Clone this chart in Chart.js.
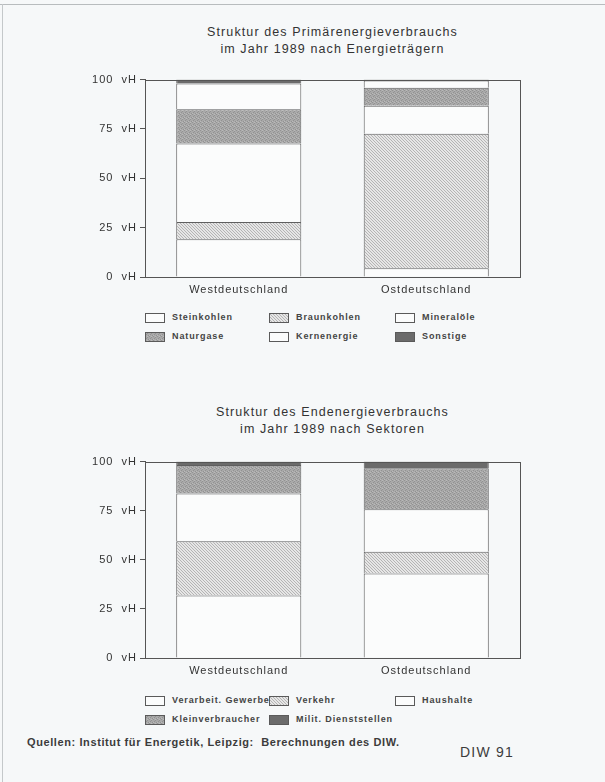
<!DOCTYPE html>
<html>
<head>
<meta charset="utf-8">
<script src="https://cdn.jsdelivr.net/npm/chart.js@4"></script>
<style>
  body { margin:0; background:#f6f8f9; font-family:"Liberation Sans", Arial, sans-serif; color:#333; }
  #page { position:relative; width:605px; height:782px; overflow:hidden; }
  .frameTop { position:absolute; left:0; top:4px; width:605px; height:1px; background:#b8bcbe; }
  .frameLeft { position:absolute; left:2px; top:4px; width:1px; height:778px; background:#c4c8ca; }
  .title { position:absolute; left:145px; width:375px; text-align:center; font-size:12.5px; letter-spacing:1.1px; line-height:17px; color:#333; }
  canvas.chart { position:absolute; left:0; }
  .legend { position:absolute; left:145px; width:360px; }
  .item { position:absolute; font-size:9px; font-weight:bold; letter-spacing:0.9px; color:#444; white-space:nowrap; }
  .item canvas { position:absolute; left:0; top:0; }
  .item span { position:absolute; left:27px; top:-1px; }
  .foot { position:absolute; left:27px; top:736px; font-size:11px; font-weight:bold; letter-spacing:0.6px; color:#3c3c3c; }
  .diw { position:absolute; left:460px; top:744px; font-size:14px; letter-spacing:1.2px; color:#3c3c3c; }
</style>
</head>
<body>
<div id="page">
  <div class="frameTop"></div>
  <div class="frameLeft"></div>
  <div class="title" style="top:24px">Struktur des Primärenergieverbrauchs<br>im Jahr 1989 nach Energieträgern</div>
  <canvas id="c1" class="chart" width="530" height="227" style="top:70px"></canvas>
  <div id="leg1" class="legend" style="top:313px"></div>
  <div class="title" style="top:404px">Struktur des Endenergieverbrauchs<br>im Jahr 1989 nach Sektoren</div>
  <canvas id="c2" class="chart" width="530" height="226" style="top:452px"></canvas>
  <div id="leg2" class="legend" style="top:696px"></div>
  <div class="foot">Quellen: Institut für Energetik, Leipzig: &nbsp;Berechnungen des DIW.</div>
  <div class="diw">DIW 91</div>
</div>
<script>
// categories
const regions = ['Westdeutschland', 'Ostdeutschland'];
const yTicks = [0, 25, 50, 75, 100];

// Primärenergieverbrauch 1989, vH
const primLabels = ['Steinkohlen', 'Braunkohlen', 'Mineralöle', 'Naturgase', 'Kernenergie', 'Sonstige'];
const steinkohlen = [19.1, 4.4];
const braunkohlen = [8.8, 68.2];
const mineraloele = [39.7, 14.1];
const naturgase   = [17.4, 9.2];
const kernenergie = [13.0, 3.6];
const sonstige    = [2.0, 0.5];

// Endenergieverbrauch 1989, vH
const endLabels = ['Verarbeit. Gewerbe', 'Verkehr', 'Haushalte', 'Kleinverbraucher', 'Milit. Dienststellen'];
const gewerbe          = [31.8, 43.0];
const verkehr          = [27.7, 11.1];
const haushalte        = [24.2, 21.6];
const kleinverbraucher = [14.6, 20.9];
const militaer         = [1.7, 3.4];

// fill patterns
function makePattern(draw, w, h) {
    var c = document.createElement('canvas');
    c.width = w; c.height = h;
    draw(c.getContext('2d'));
    return c.getContext('2d').createPattern(c, 'repeat');
}
var white = '#fbfcfc';
var hatch = makePattern(function(g){
    g.fillStyle = '#e6e6e6'; g.fillRect(0, 0, 3, 3);
    g.fillStyle = '#b4b4b4';
    g.fillRect(0, 0, 1, 1); g.fillRect(1, 1, 1, 1); g.fillRect(2, 2, 1, 1);
}, 3, 3);
var stipple = makePattern(function(g){
    g.fillStyle = '#a9a9a9'; g.fillRect(0, 0, 4, 4);
    g.fillStyle = '#929292';
    g.fillRect(0, 0, 1, 1); g.fillRect(2, 1, 1, 1); g.fillRect(1, 2, 1, 1); g.fillRect(3, 3, 1, 1);
    g.fillStyle = '#bababa';
    g.fillRect(2, 0, 1, 1); g.fillRect(0, 3, 1, 1);
}, 4, 4);
var dark = '#6b6b6b';

var primFills = [white, hatch, white, stipple, white, dark];
var endFills = [white, hatch, white, stipple, dark];

var framePlugin = {
    id: 'frame',
    beforeDraw: function(chart) { chart.ctx.letterSpacing = '1px'; },
    afterDraw: function(chart) {
        var a = chart.chartArea, ctx = chart.ctx;
        ctx.save();
        ctx.strokeStyle = '#555';
        ctx.lineWidth = 1;
        ctx.strokeRect(Math.round(a.left) + 0.5, Math.round(a.top) + 0.5, Math.round(a.right - a.left), Math.round(a.bottom - a.top));
        ctx.restore();
    }
};

function stackedChart(id, labels, series, fills) {
    var ctx = document.getElementById(id).getContext('2d');
    return new Chart(ctx, {
        type: 'bar',
        data: {
            labels: regions,
            datasets: series.map(function(s, i) {
                return {
                    label: labels[i],
                    data: s,
                    backgroundColor: fills[i],
                    borderColor: '#5f5f5f',
                    borderWidth: { top: 1, left: 1, right: 1, bottom: 0 },
                    borderSkipped: false,
                    barPercentage: 0.667,
                    categoryPercentage: 1
                };
            })
        },
        options: {
            responsive: false,
            animation: false,
            layout: { padding: { top: 9, right: 10, left: 0, bottom: 0 } },
            plugins: { legend: { display: false }, tooltip: { enabled: false } },
            scales: {
                x: {
                    stacked: true,
                    afterFit: function(s) { s.height = 20; },
                    grid: { display: false, drawTicks: false },
                    border: { display: true, color: '#555' },
                    ticks: { color: '#333', padding: 6, font: { family: 'Liberation Sans', size: 11 } }
                },
                y: {
                    stacked: true,
                    min: 0,
                    max: 100,
                    afterFit: function(s) { s.width = 145; },
                    afterBuildTicks: function(s) { s.ticks = yTicks.map(function(v){ return { value: v }; }); },
                    grid: { drawOnChartArea: false, drawTicks: true, tickLength: 5, color: '#555' },
                    border: { display: true, color: '#555' },
                    ticks: {
                        color: '#333', padding: 3,
                        font: { family: 'Liberation Sans', size: 11 },
                        callback: function(v) { return v + '  vH'; }
                    }
                }
            }
        },
        plugins: [framePlugin]
    });
}

stackedChart('c1', primLabels, [steinkohlen, braunkohlen, mineraloele, naturgase, kernenergie, sonstige], primFills);
stackedChart('c2', endLabels, [gewerbe, verkehr, haushalte, kleinverbraucher, militaer], endFills);

// legends
var colX = [0, 124, 250];
function buildLegend(id, labels, fills) {
    var box = document.getElementById(id);
    labels.forEach(function(lab, i) {
        var it = document.createElement('div');
        it.className = 'item';
        it.style.left = colX[i % 3] + 'px';
        it.style.top = (Math.floor(i / 3) * 19) + 'px';
        var sw = document.createElement('canvas');
        sw.width = 20; sw.height = 10;
        var g = sw.getContext('2d');
        g.fillStyle = fills[i]; g.fillRect(0, 0, 20, 10);
        g.strokeStyle = '#5a5a5a'; g.strokeRect(0.5, 0.5, 19, 9);
        var t = document.createElement('span');
        t.textContent = lab;
        it.appendChild(sw); it.appendChild(t);
        box.appendChild(it);
    });
}
buildLegend('leg1', primLabels, primFills);
buildLegend('leg2', endLabels, endFills);
</script>
</body>
</html>
